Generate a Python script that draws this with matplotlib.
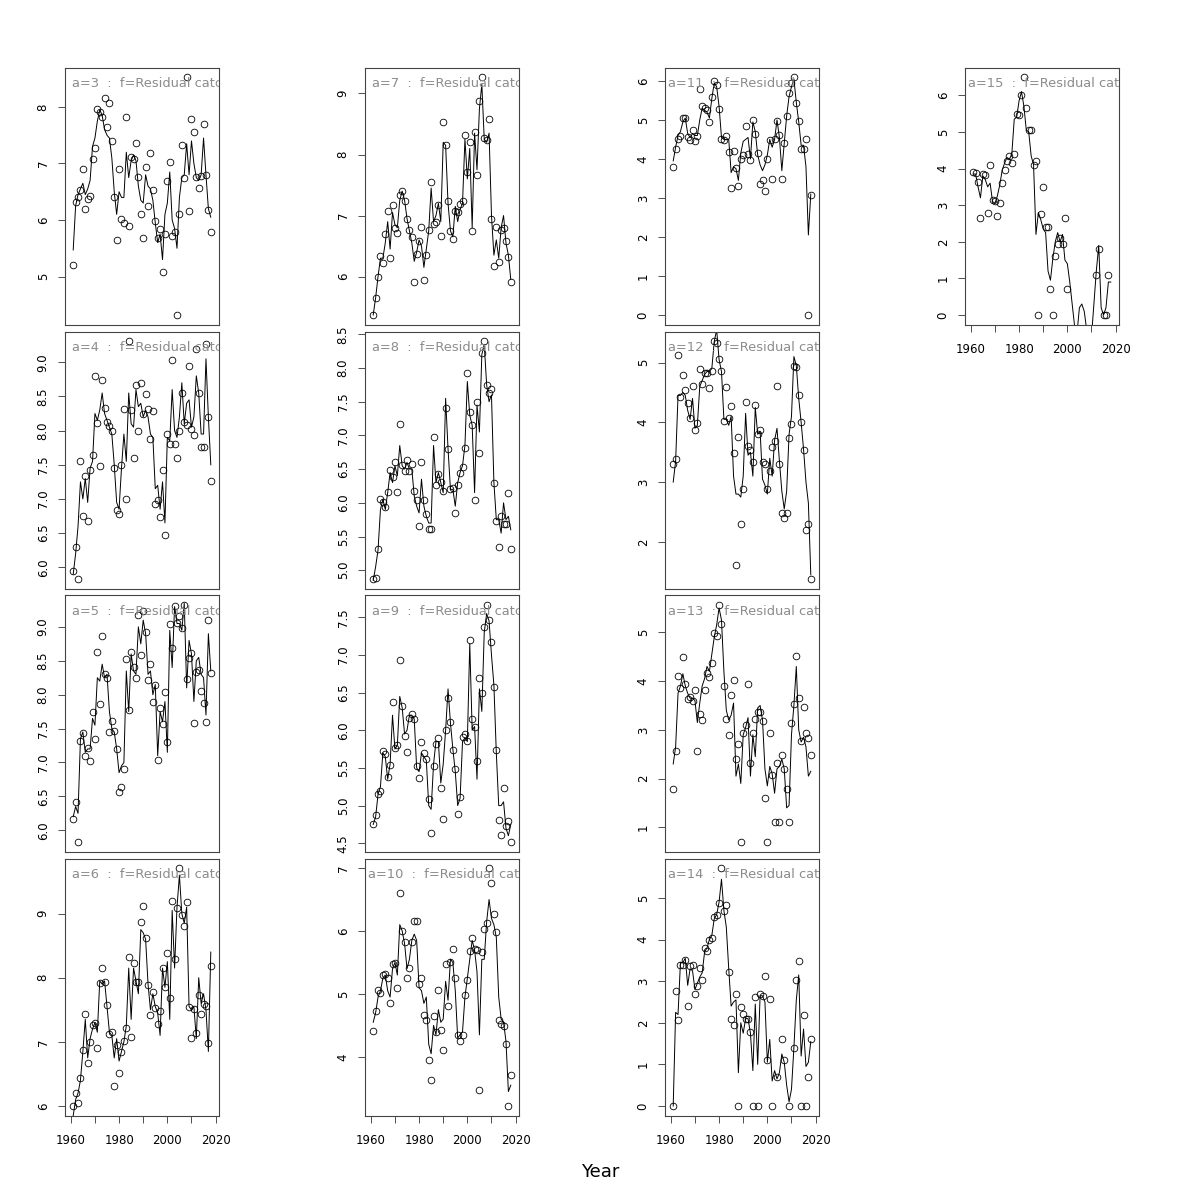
import numpy as np
import matplotlib.pyplot as plt

nan = np.nan
YEARS = np.arange(1961, 2019)

a3_obs = [5.20, 6.32, 6.41, 6.53, 6.90, 6.19, 6.38, 6.42, 7.08, 7.28,
          7.96, 7.91, 7.83, 8.16, 7.64, 8.07, 7.39, 6.41, 5.65, 6.90,
          6.01, 5.95, 7.82, 5.90, 7.12, 7.08, 7.36, 6.76, 6.10, 5.68,
          6.94, 6.25, 7.18, 6.53, 5.98, 5.69, 5.84, 5.08, 5.76, 6.69,
          7.02, 5.71, 5.79, 4.32, 6.11, 7.32, 6.74, 8.53, 6.16, 7.79,
          7.56, 6.76, 6.57, 6.78, 7.69, 6.79, 6.18, 5.79]
a3_fit = [5.47, 6.25, 6.45, 6.55, 6.65, 6.45, 6.55, 6.70, 7.30, 7.45,
          7.75, 7.95, 7.85, 7.60, 7.50, 7.45, 7.10, 6.50, 6.10, 6.50,
          6.40, 6.40, 7.20, 6.75, 7.05, 7.15, 7.05, 6.60, 6.35, 6.30,
          6.80, 6.60, 6.55, 6.35, 5.95, 5.60, 5.75, 5.30, 6.10, 6.30,
          6.85, 6.00, 5.85, 5.50, 6.40, 6.75, 6.80, 7.35, 6.80, 7.40,
          7.00, 6.75, 6.70, 6.80, 7.45, 6.80, 6.20, 6.05]

a4_obs = [5.94, 6.30, 5.83, 7.55, 6.75, 7.34, 6.68, 7.43, 7.64, 8.80,
          8.11, 7.48, 8.74, 8.33, 8.13, 8.07, 7.99, 7.46, 6.84, 6.78,
          7.50, 8.32, 7.00, 9.31, 8.30, 7.60, 8.67, 7.99, 8.70, 8.25,
          8.54, 8.31, 7.87, 8.29, 6.93, 6.99, 6.73, 7.43, 6.48, 7.95,
          7.80, 9.03, 7.80, 7.60, 7.99, 8.55, 8.13, 8.08, 8.94, 8.02,
          7.93, 9.20, 8.55, 7.76, 7.76, 9.27, 8.20, 7.26]
a4_fit = [5.90, 6.20, 6.60, 7.25, 7.00, 7.30, 6.95, 7.45, 7.55, 8.25,
          8.15, 8.30, 8.55, 8.25, 8.15, 8.05, 7.95, 7.50, 6.95, 6.85,
          7.45, 7.95, 7.55, 8.55, 8.10, 8.05, 8.60, 8.35, 8.40, 8.20,
          8.30, 8.20, 7.95, 7.90, 7.15, 7.20, 6.85, 7.25, 6.65, 7.90,
          7.85, 8.60, 8.00, 7.90, 8.20, 8.70, 8.10, 8.40, 8.45, 8.05,
          8.20, 8.80, 8.55, 7.95, 7.95, 9.05, 8.20, 7.50]

a5_obs = [6.17, 6.42, 5.82, 7.31, 7.44, 7.09, 7.22, 7.02, 7.74, 7.34,
          8.63, 7.86, 8.87, 8.30, 8.24, 7.45, 7.61, 7.46, 7.20, 6.57,
          6.64, 6.90, 8.53, 7.77, 8.63, 8.41, 8.25, 9.17, 8.58, 9.23,
          8.92, 8.21, 8.45, 7.89, 8.15, 7.04, 7.81, 7.57, 8.04, 7.30,
          9.04, 8.69, 9.31, 9.06, 9.16, 8.99, 9.33, 8.23, 8.54, 8.62,
          7.58, 8.34, 8.36, 8.06, 7.88, 7.59, 9.10, 8.32]
a5_fit = [6.20, 6.35, 6.25, 7.35, 7.45, 7.15, 7.20, 7.20, 7.65, 7.55,
          8.25, 8.20, 8.45, 8.25, 8.30, 7.75, 7.50, 7.45, 7.20, 6.85,
          6.95, 7.00, 8.35, 7.75, 8.60, 8.35, 8.30, 9.00, 8.75, 9.10,
          8.90, 8.30, 8.35, 8.00, 8.15, 7.10, 7.75, 7.60, 7.90, 7.15,
          8.95, 8.40, 9.30, 9.05, 9.05, 8.95, 9.35, 8.10, 8.80, 8.60,
          7.90, 8.50, 8.55, 8.30, 8.25, 7.70, 8.90, 8.35]

a6_obs = [6.00, 6.21, 6.04, 6.43, 6.87, 7.43, 6.67, 7.00, 7.26, 7.29,
          6.91, 7.92, 8.15, 7.93, 7.57, 7.13, 7.16, 6.31, 6.95, 6.51,
          6.84, 7.01, 7.21, 8.32, 7.08, 8.23, 7.93, 7.93, 8.87, 9.12,
          8.62, 7.89, 7.42, 7.77, 7.52, 7.28, 7.48, 8.15, 7.85, 8.38,
          7.68, 9.19, 8.29, 9.08, 9.71, 8.97, 8.80, 9.18, 7.54, 7.06,
          7.51, 7.14, 7.73, 7.43, 7.59, 7.56, 6.98, 8.19]
a6_fit = [5.85, 6.10, 6.20, 6.40, 6.85, 7.35, 6.75, 7.05, 7.20, 7.30,
          7.15, 7.95, 7.90, 7.95, 7.55, 7.15, 7.10, 6.75, 7.05, 6.70,
          6.85, 7.00, 7.25, 8.15, 7.35, 8.15, 7.95, 7.75, 8.75, 8.70,
          8.60, 7.90, 7.50, 7.75, 7.55, 7.45, 7.10, 8.15, 7.85, 8.25,
          7.35, 9.05, 8.15, 9.10, 9.60, 9.00, 8.85, 9.10, 7.55, 7.50,
          7.55, 7.05, 8.00, 7.60, 7.75, 7.50, 6.85, 8.40]

a7_obs = [5.37, 5.65, 6.00, 6.34, 6.23, 6.69, 7.08, 6.30, 7.17, 6.80,
          6.71, 7.33, 7.40, 7.24, 6.95, 6.77, 6.64, 5.91, 6.37, 6.59,
          6.81, 5.94, 6.35, 6.77, 7.55, 6.86, 6.89, 7.17, 6.67, 8.53,
          8.16, 7.23, 6.75, 6.61, 7.07, 7.05, 7.19, 7.23, 8.32, 7.71,
          8.21, 6.75, 8.37, 7.66, 8.87, 9.27, 8.27, 8.23, 8.58, 6.94,
          6.17, 6.81, 6.24, 6.77, 6.79, 6.58, 6.32, 5.91]
a7_fit = [5.37, 5.65, 6.00, 6.30, 6.30, 6.55, 6.90, 6.45, 7.05, 6.85,
          6.80, 7.25, 7.40, 7.25, 6.95, 6.75, 6.55, 6.25, 6.40, 6.60,
          6.50, 6.15, 6.45, 6.75, 7.45, 6.90, 7.00, 7.20, 6.90, 8.20,
          8.15, 7.20, 6.75, 6.65, 7.15, 6.90, 7.10, 7.20, 8.25, 7.60,
          8.10, 6.80, 8.35, 7.75, 8.75, 9.15, 8.25, 8.20, 8.35, 7.00,
          6.35, 6.60, 6.30, 6.80, 7.00, 6.55, 6.35, 5.95]

a8_obs = [4.87, 4.88, 5.31, 6.05, 6.01, 5.94, 6.16, 6.49, 6.38, 6.60,
          6.16, 7.17, 6.56, 6.47, 6.63, 6.47, 6.57, 6.18, 6.04, 5.65,
          6.60, 6.04, 5.83, 5.61, 5.61, 6.98, 6.27, 6.43, 6.31, 6.17,
          7.40, 6.80, 6.20, 6.22, 5.85, 6.26, 6.44, 6.53, 6.82, 7.92,
          7.34, 7.16, 6.04, 7.50, 6.74, 8.22, 8.40, 7.75, 7.63, 7.69,
          6.29, 5.73, 5.35, 5.81, 5.68, 5.68, 6.14, 5.31]
a8_fit = [4.85, 5.05, 5.30, 5.90, 6.05, 5.90, 6.15, 6.45, 6.30, 6.55,
          6.40, 6.85, 6.55, 6.50, 6.60, 6.50, 6.50, 6.10, 5.95, 5.85,
          6.35, 5.95, 5.80, 5.70, 5.70, 6.85, 6.30, 6.45, 6.30, 6.15,
          7.55, 6.80, 6.20, 6.20, 5.95, 6.30, 6.45, 6.55, 6.85, 7.80,
          7.30, 7.15, 6.15, 7.45, 7.05, 8.20, 8.35, 7.75, 7.50, 7.60,
          6.30, 5.75, 5.75, 5.55, 6.00, 5.75, 5.80, 5.60]

a9_obs = [4.76, 4.87, 5.16, 5.19, 5.73, 5.69, 5.38, 5.54, 6.37, 5.77,
          5.80, 6.93, 6.32, 5.92, 5.71, 6.16, 6.22, 6.15, 5.52, 5.37,
          5.85, 5.70, 5.62, 5.09, 4.64, 5.52, 5.82, 5.90, 5.23, 4.82,
          6.01, 6.43, 6.11, 5.74, 5.49, 4.89, 5.11, 5.91, 5.95, 5.86,
          7.20, 6.15, 6.05, 5.59, 6.70, 6.49, 7.37, 7.67, 7.47, 7.17,
          6.58, 5.74, 4.81, 4.61, 5.23, 4.73, 4.80, 4.51]
a9_fit = [4.75, 4.85, 5.15, 5.25, 5.70, 5.65, 5.35, 5.55, 6.20, 5.75,
          5.80, 6.45, 6.30, 5.95, 6.00, 6.20, 6.20, 6.15, 5.50, 5.45,
          5.70, 5.65, 5.60, 5.00, 4.95, 5.55, 5.85, 5.85, 5.30, 5.55,
          6.00, 6.55, 6.10, 5.75, 5.45, 5.00, 5.10, 5.85, 5.90, 5.85,
          7.15, 6.00, 6.05, 5.35, 6.55, 6.25, 7.30, 7.55, 7.45, 7.00,
          6.60, 5.70, 5.00, 5.00, 5.05, 4.70, 4.60, 4.75]

a10_obs = [4.41, 4.73, 5.06, 5.01, 5.30, 5.32, 5.25, 4.86, 5.48, 5.49,
           5.10, 6.61, 6.00, 5.83, 5.26, 5.41, 5.83, 6.16, 6.16, 5.15,
           5.26, 4.66, 4.59, 3.95, 3.64, 4.65, 4.40, 5.07, 4.42, 4.11,
           5.47, 4.81, 5.51, 5.71, 5.25, 4.34, 4.26, 4.34, 4.99, 5.22,
           5.68, 5.89, 5.72, 5.69, 3.47, 5.67, 6.03, 6.13, 7.00, 6.76,
           6.27, 5.99, 4.58, 4.53, 4.49, 4.21, 3.22, 3.71]
a10_fit = [4.55, 4.70, 4.95, 5.05, 5.25, 5.30, 5.05, 4.95, 5.40, 5.50,
           5.30, 6.10, 6.00, 5.80, 5.40, 5.55, 5.85, 5.95, 5.85, 5.10,
           5.05, 4.85, 4.95, 4.20, 4.05, 4.50, 4.35, 4.75, 4.55, 4.60,
           5.20, 4.90, 5.55, 5.50, 5.05, 4.30, 4.35, 4.40, 4.95, 5.25,
           5.55, 5.85, 5.70, 5.35, 4.35, 5.55, 5.55, 6.15, 6.50, 6.20,
           6.10, 5.90, 4.95, 4.60, 4.55, 4.25, 3.45, 3.55]

a11_obs = [3.80, 4.25, 4.52, 4.59, 5.04, 5.04, 4.55, 4.48, 4.74, 4.45,
           4.59, 5.79, 5.36, 5.30, 5.26, 4.95, 5.60, 6.00, 5.90, 5.27,
           4.52, 4.48, 4.58, 4.17, 3.25, 4.20, 3.76, 3.30, 4.00, 4.11,
           4.85, 4.13, 3.98, 5.00, 4.63, 4.16, 3.36, 3.47, 3.18, 4.01,
           4.49, 3.49, 4.51, 4.98, 4.62, 3.49, 4.40, 5.09, 5.69, 5.94,
           6.10, 5.43, 4.98, 4.25, 4.25, 4.52, 0.00, 3.08]
a11_fit = [3.95, 4.30, 4.60, 4.70, 4.95, 5.05, 4.65, 4.55, 4.65, 4.60,
           4.60, 5.00, 5.30, 5.25, 5.20, 5.05, 5.55, 5.95, 5.85, 5.35,
           4.55, 4.50, 4.50, 4.50, 3.65, 3.80, 3.75, 3.45, 4.15, 4.45,
           4.50, 4.55, 4.00, 4.95, 4.70, 4.10, 3.85, 3.70, 3.85, 4.10,
           4.50, 4.30, 4.50, 5.00, 4.55, 3.70, 4.40, 5.10, 5.60, 5.85,
           6.05, 5.45, 4.95, 4.35, 4.35, 3.80, 2.05, 3.10]

a12_obs = [3.30, 3.38, 5.13, 4.42, 4.79, 4.54, 4.33, 4.08, 4.60, 3.87,
           3.99, 4.89, 4.64, 4.83, 4.83, 4.57, 4.86, 5.36, 5.33, 5.06,
           4.86, 4.03, 4.59, 4.08, 4.28, 3.49, 1.61, 3.76, 2.30, 2.89,
           4.34, 3.61, 3.53, 3.34, 4.29, 3.80, 3.88, 3.34, 3.30, 2.89,
           3.18, 3.58, 3.69, 4.61, 3.30, 2.48, 2.40, 2.48, 3.74, 3.97,
           4.94, 4.92, 4.45, 4.00, 3.53, 2.20, 2.30, 1.38]
a12_fit = [3.00, 3.35, 4.45, 4.45, 4.50, 4.45, 4.20, 4.05, 4.40, 3.90,
           3.95, 4.60, 4.70, 4.80, 4.85, 4.85, 4.90, 5.35, 5.55, 5.05,
           4.85, 4.05, 4.05, 3.95, 4.10, 3.10, 2.80, 2.80, 2.75, 3.10,
           4.15, 3.45, 3.50, 3.10, 4.25, 3.80, 3.85, 3.05, 2.95, 2.80,
           3.40, 3.10, 3.70, 3.90, 3.35, 2.85, 2.55, 2.85, 3.80, 4.10,
           5.10, 4.95, 4.40, 4.00, 3.55, 3.00, 2.65, 1.45]

a13_obs = [1.79, 2.56, 4.11, 3.85, 4.49, 3.95, 3.63, 3.68, 3.59, 3.82,
           2.56, 3.33, 3.21, 3.82, 4.17, 4.08, 4.38, 4.99, 4.92, 5.57,
           5.17, 3.89, 3.22, 2.89, 3.71, 4.02, 2.40, 2.70, 0.69, 2.94,
           3.10, 3.95, 2.31, 2.94, 3.22, 3.37, 3.37, 3.18, 1.60, 0.69,
           2.94, 2.07, 1.10, 2.31, 1.10, 2.48, 2.19, 1.79, 1.10, 3.13,
           3.53, 4.51, 3.66, 2.77, 3.46, 2.94, 2.83, 2.48]
a13_fit = [2.30, 2.65, 3.75, 3.90, 4.15, 3.90, 3.75, 3.65, 3.65, 3.60,
           3.15, 3.55, 3.90, 4.05, 4.30, 4.20, 4.55, 4.90, 5.15, 5.50,
           5.25, 4.20, 3.40, 3.20, 3.30, 3.55, 2.05, 2.30, 1.90, 2.90,
           3.05, 3.25, 2.05, 2.90, 2.45, 3.45, 3.50, 3.20, 2.20, 1.85,
           2.25, 2.10, 1.70, 2.20, 2.25, 2.40, 2.20, 1.40, 1.45, 2.90,
           3.50, 4.30, 3.00, 2.75, 2.85, 2.65, 2.05, 2.15]

a14_obs = [0.00, 2.77, 2.07, 3.39, 3.39, 3.52, 2.40, 3.36, 3.39, 2.70,
           2.89, 3.32, 3.04, 3.79, 3.72, 3.99, 4.04, 4.55, 4.58, 4.89,
           5.72, 4.69, 4.84, 3.22, 2.09, 1.95, 2.70, 0.00, 2.39, 2.20,
           2.08, 2.09, 1.79, 0.00, 2.63, 0.00, 2.70, 2.64, 3.13, 1.10,
           2.56, 0.00, nan, 0.69, nan, 1.61, 1.10, nan, 0.00, nan,
           1.39, 3.04, 3.49, 0.00, 2.19, 0.00, 0.69, 1.61]
a14_fit = [0.00, 2.25, 2.20, 3.45, 3.45, 3.55, 2.90, 3.30, 3.25, 2.80,
           2.95, 3.10, 3.20, 3.70, 3.80, 4.00, 4.10, 4.50, 4.60, 4.90,
           5.45, 4.70, 4.30, 3.30, 2.40, 2.50, 2.55, 0.80, 2.00, 1.75,
           2.10, 2.10, 1.75, 0.85, 2.45, 1.00, 2.65, 2.65, 2.50, 1.05,
           1.60, 0.60, 0.85, 0.65, 0.80, 1.25, 1.05, 0.50, 0.10, 0.40,
           1.40, 2.55, 3.15, 1.20, 1.85, 0.95, 1.05, 1.55]

a15_obs = [3.90, 3.87, 3.62, 2.65, 3.84, 3.82, 2.79, 4.09, 3.15, 3.10,
           2.70, 3.05, 3.60, 3.95, 4.20, 4.35, 4.15, 4.40, 5.50, 5.45,
           6.00, 6.50, 5.65, 5.05, 5.05, 4.10, 4.20, 0.00, 2.75, 3.50,
           2.40, 2.40, 0.70, 0.00, 1.60, 1.95, 2.10, 1.95, 2.65, 0.70,
           nan, nan, nan, nan, nan, nan, nan, nan, nan, nan,
           nan, 1.10, 1.80, nan, 0.00, 0.00, 1.10, nan]
a15_fit = [3.85, 3.85, 3.50, 3.20, 3.80, 3.70, 3.50, 3.60, 3.10, 3.05,
           3.25, 3.55, 3.95, 4.15, 4.30, 4.25, 4.40, 5.35, 5.40, 5.85,
           6.10, 5.70, 5.05, 5.00, 4.35, 4.10, 2.20, 2.80, 2.60, 2.35,
           2.25, 1.20, 0.95, 1.55, 2.00, 2.25, 2.00, 2.20, 1.50, 1.40,
           0.90, 0.30, -0.30, -0.50, 0.20, 0.30, 0.10, -0.40, -0.70, -0.60,
           0.30, 1.20, 1.90, 0.20, 0.00, 0.20, 0.90, 0.90]

AGES = [3, 4, 5, 6, 7, 8, 9, 10, 11, 12, 13, 14, 15]
OBS = [a3_obs, a4_obs, a5_obs, a6_obs, a7_obs, a8_obs, a9_obs, a10_obs,
       a11_obs, a12_obs, a13_obs, a14_obs, a15_obs]
FIT = [a3_fit, a4_fit, a5_fit, a6_fit, a7_fit, a8_fit, a9_fit, a10_fit,
       a11_fit, a12_fit, a13_fit, a14_fit, a15_fit]
Y_STEP = [1, 0.5, 0.5, 1, 1, 0.5, 0.5, 1, 1, 1, 1, 1, 1]
# (column, row) of each panel in the 4x4 grid
GRID = [(0, 0), (0, 1), (0, 2), (0, 3), (1, 0), (1, 1), (1, 2), (1, 3),
        (2, 0), (2, 1), (2, 2), (2, 3), (3, 0)]

W, H = 1200, 1200
COL_LEFT = [65, 365, 665, 965]
ROW_TOP = [67.5, 331.5, 595, 858.5]
PW, PH = 154, 257


def draw_panel(fig, col, row, age, obs, fit, step, show_x):
    left = COL_LEFT[col] / W
    bottom = 1 - (ROW_TOP[row] + PH) / H
    ax = fig.add_axes([left, bottom, PW / W, PH / H])
    obs = np.array(obs, dtype=float)
    fit = np.array(fit, dtype=float)
    ax.plot(YEARS, fit, color='black', lw=0.7)
    ax.plot(YEARS, obs, 'o', mfc='none', mec='black', ms=4.8, mew=0.6)

    lo, hi = np.nanmin(obs), np.nanmax(obs)
    pad = 0.04 * (hi - lo)
    ax.set_ylim(lo - pad, hi + pad)
    ax.set_xlim(1957.6, 2021.4)

    ticks = np.arange(np.ceil((lo - pad) / step) * step, hi + pad + 1e-9, step)
    ax.set_yticks(ticks)
    fmt = '%.1f' if step < 1 else '%d'
    ax.set_yticklabels([fmt % t for t in ticks], rotation=90, va='center',
                       fontsize=8.5)
    ax.tick_params(axis='y', length=5, width=0.6, pad=6, color='#333333')

    if show_x:
        xt = list(range(1960, 2021, 10))
        ax.set_xticks(xt)
        ax.set_xticklabels([str(v) if v % 20 == 0 else '' for v in xt],
                           fontsize=8.5)
        ax.tick_params(axis='x', length=5, width=0.6, pad=8, color='#333333')
    else:
        ax.set_xticks([])

    for sp in ax.spines.values():
        sp.set_color('#444444')
        sp.set_linewidth(0.8)

    ax.text(0.558, 0.936, f"a={age}  :  f=Residual catch", transform=ax.transAxes,
            ha='center', va='center', color='#8c8c8c', fontsize=9.4, clip_on=True)


fig = plt.figure(figsize=(12, 12), dpi=100)
for age, obs, fit, step, (col, row) in zip(AGES, OBS, FIT, Y_STEP, GRID):
    show_x = (row == 3) or (col == 3)
    draw_panel(fig, col, row, age, obs, fit, step, show_x)

fig.text(0.5, 1 - 1172 / H, 'Year', ha='center', va='center', fontsize=13)
fig.savefig('out.png', dpi=100)
